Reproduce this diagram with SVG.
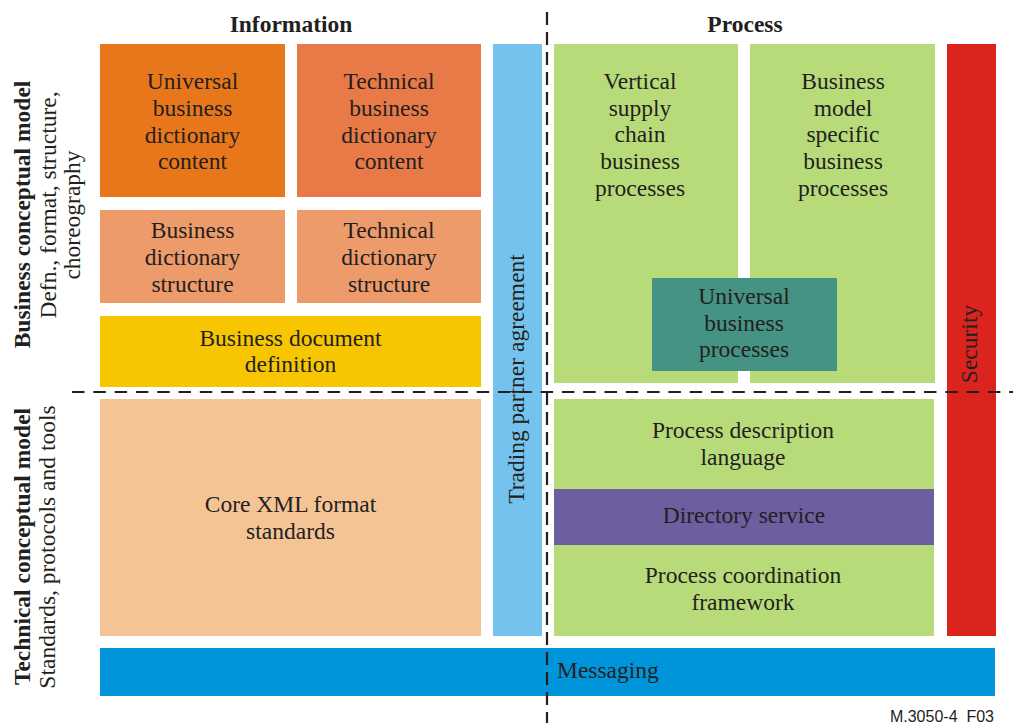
<svg xmlns="http://www.w3.org/2000/svg" width="1013" height="723" viewBox="0 0 1013 723">
<style>
text{font-family:"Liberation Serif","Times New Roman",serif;font-size:23.5px;fill:#231F20}
.c{text-anchor:middle}
.b{font-weight:bold}
.div{stroke:#231F20;stroke-width:2.2;fill:none}
</style>
<rect width="1013" height="723" fill="#fff"/>
<g id="hdr-information"><text class="c b" x="291" y="32">Information</text></g>
<g id="hdr-process"><text class="c b" x="745" y="32">Process</text></g>
<g id="lbl-business-model">
<text class="c b" transform="translate(30,214.5) rotate(-90)">Business conceptual model</text>
<text class="c" transform="translate(56,205) rotate(-90)">Defn., format, structure,</text>
<text class="c" transform="translate(80,215) rotate(-90)">choreography</text>
</g>
<g id="lbl-technical-model">
<text class="c b" transform="translate(30,546.5) rotate(-90)">Technical conceptual model</text>
<text class="c" transform="translate(55,547) rotate(-90)">Standards, protocols and tools</text>
</g>
<g id="n-ubdc"><rect x="100" y="44" width="185" height="153" fill="#E8771B"/>
<text class="c" x="192.5" y="89">Universal</text><text class="c" x="192.5" y="116">business</text><text class="c" x="192.5" y="142.5">dictionary</text><text class="c" x="192.5" y="169">content</text></g>
<g id="n-tbdc"><rect x="297" y="44" width="184" height="153" fill="#E87A48"/>
<text class="c" x="389" y="89">Technical</text><text class="c" x="389" y="116">business</text><text class="c" x="389" y="142.5">dictionary</text><text class="c" x="389" y="169">content</text></g>
<g id="n-bds"><rect x="100" y="210" width="185" height="93" fill="#EE9B6B"/>
<text class="c" x="192.5" y="238">Business</text><text class="c" x="192.5" y="265">dictionary</text><text class="c" x="192.5" y="291.5">structure</text></g>
<g id="n-tds"><rect x="297" y="210" width="184" height="93" fill="#EE9B6B"/>
<text class="c" x="389" y="238">Technical</text><text class="c" x="389" y="265">dictionary</text><text class="c" x="389" y="291.5">structure</text></g>
<g id="n-bdd"><rect x="100" y="316" width="381" height="71" fill="#F7C600"/>
<text class="c" x="290.5" y="346">Business document</text><text class="c" x="290.5" y="372">definition</text></g>
<g id="n-core-xml"><rect x="100" y="399" width="381" height="237" fill="#F5C494"/>
<text class="c" x="290.5" y="512">Core XML format</text><text class="c" x="290.5" y="539">standards</text></g>
<g id="n-trading"><rect x="493" y="44" width="49" height="592" fill="#74C3EE"/>
<text class="c" transform="translate(524,379) rotate(-90)">Trading partner agreement</text></g>
<g id="n-vertical"><rect x="554" y="44" width="184" height="339" fill="#B8DB7A"/>
<text class="c" x="640" y="89">Vertical</text><text class="c" x="640" y="116">supply</text><text class="c" x="640" y="142">chain</text><text class="c" x="640" y="169">business</text><text class="c" x="640" y="195.5">processes</text></g>
<g id="n-bmsbp"><rect x="750" y="44" width="185" height="339" fill="#B8DB7A"/>
<text class="c" x="843" y="89">Business</text><text class="c" x="843" y="116">model</text><text class="c" x="843" y="142">specific</text><text class="c" x="843" y="169">business</text><text class="c" x="843" y="195.5">processes</text></g>
<g id="n-ubp"><rect x="652" y="278" width="185" height="93" fill="#459384"/>
<text class="c" x="744" y="304">Universal</text><text class="c" x="744" y="331">business</text><text class="c" x="744" y="357">processes</text></g>
<g id="n-security"><rect x="947" y="44" width="49" height="592" fill="#DC241F"/>
<text class="c" transform="translate(977,344) rotate(-90)">Security</text></g>
<g id="n-pdl"><rect x="554" y="399" width="380" height="90" fill="#B8DB7A"/>
<text class="c" x="743" y="438">Process description</text><text class="c" x="743" y="465">language</text></g>
<g id="n-directory"><rect x="554" y="489" width="380" height="56" fill="#6C5E9F"/>
<text class="c" x="744" y="523">Directory service</text></g>
<g id="n-pcf"><rect x="554" y="545" width="380" height="91" fill="#B8DB7A"/>
<text class="c" x="743" y="583">Process coordination</text><text class="c" x="743" y="610">framework</text></g>
<g id="n-messaging"><rect x="100" y="648" width="895" height="48" fill="#0094DB"/>
<text x="557" y="678">Messaging</text></g>
<g id="connectors">
<line class="div" x1="72" y1="392" x2="1013" y2="392" stroke-dasharray="12.5 8.8"/>
<line class="div" x1="547" y1="12" x2="547" y2="723" stroke-dasharray="13 7"/>
</g>
<g id="fig-id"><text x="994" y="722" style="font-family:'Liberation Sans',Arial,sans-serif;font-size:16px;text-anchor:end">M.3050-4&#160; F03</text></g>
</svg>
